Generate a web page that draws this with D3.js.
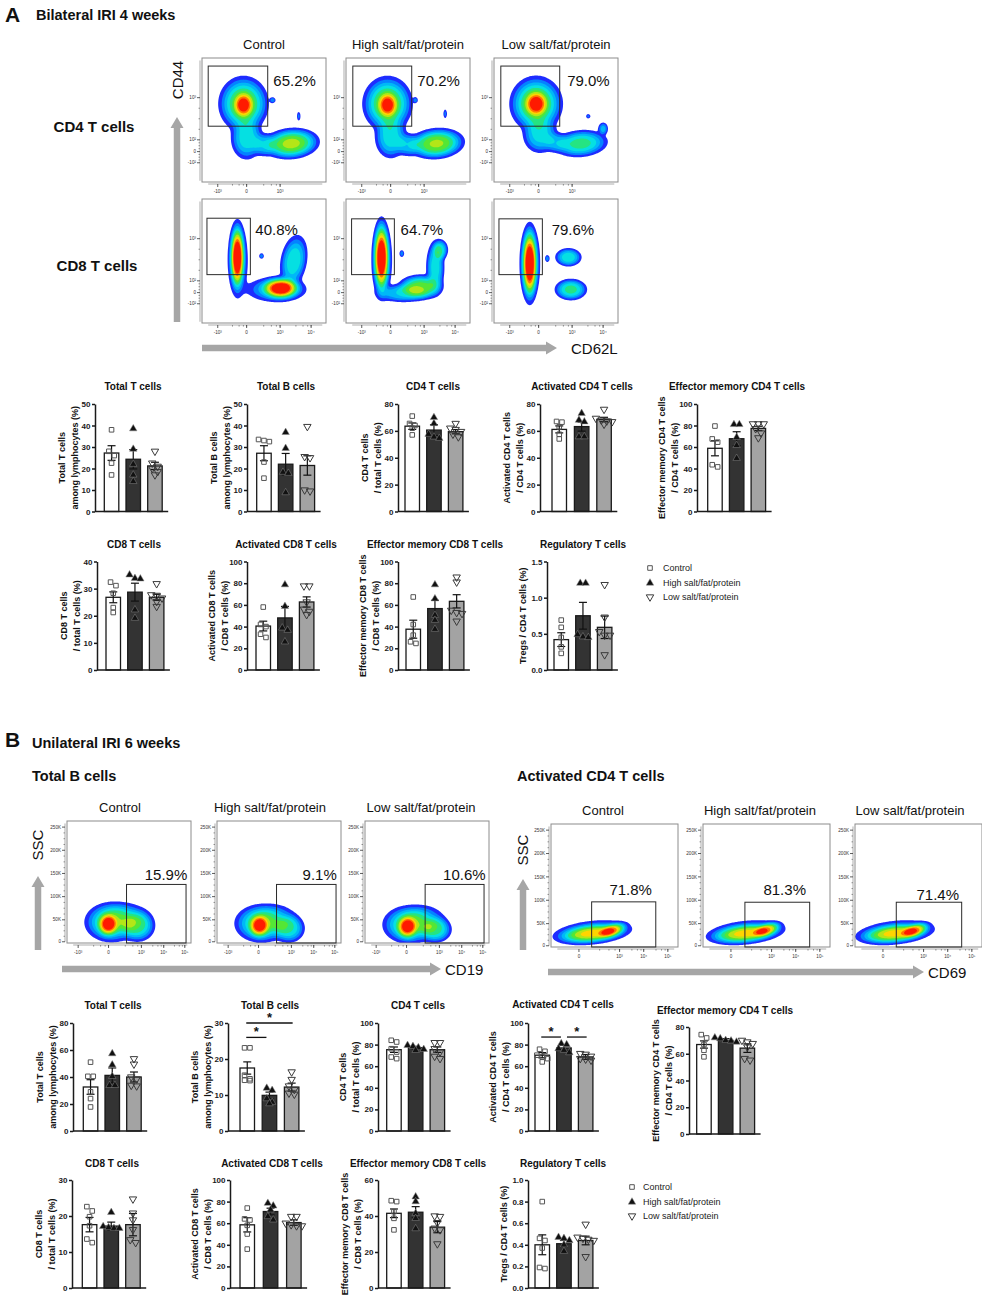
<!DOCTYPE html>
<html><head><meta charset="utf-8">
<script src="https://cdn.jsdelivr.net/npm/d3@7"></script>
<style>
body{margin:0;background:#fff;}
svg{display:block;}
</style></head><body>
<svg id="fig" width="982" height="1296"></svg>
<script>
// ===================== DATA =====================
const GROUPS = ["Control", "High salt/fat/protein", "Low salt/fat/protein"];

// ---- Panel A bar charts (mean, SEM, individual points) ----
const aTotT_mean = [27.2, 24.3, 21.2], aTotT_sem = [3.4, 4.5, 1.7];
const aTotT_pts = [[38, 28, 26, 22.5, 17], [38.5, 29, 22, 17, 14], [28, 22.5, 21, 20, 18.5, 17]];
const aTotB_mean = [27.1, 22.0, 21.4], aTotB_sem = [3.5, 5.0, 4.5];
const aTotB_pts = [[33.5, 33, 32.5, 23, 15.5], [36.8, 29.4, 18.3, 17.8, 8.8], [39.5, 25.5, 25, 10, 9.5]];
const aCD4_mean = [63.5, 60.6, 59.4], aCD4_sem = [2.4, 4.0, 1.6];
const aCD4_pts = [[71, 65.5, 64, 62, 57], [70, 65.5, 57.5, 55.5, 54.5], [65.5, 62, 61, 59.5, 57.5, 55.5]];
const aActCD4_mean = [61.1, 63.2, 68.6], aActCD4_sem = [2.6, 3.4, 1.5];
const aActCD4_pts = [[67, 66.5, 63, 57.5, 54], [73, 68, 66.8, 55.7, 55.7], [76, 69.3, 68, 67.3, 66.8, 64.9]];
const aEmCD4_mean = [58.8, 67.7, 77.3], aEmCD4_sem = [7.0, 6.5, 2.0];
const aEmCD4_pts = [[79.5, 67.5, 64.5, 43.5, 41.5], [81, 81, 69, 61.5, 49.5], [81.5, 81.5, 81.5, 77, 73, 68.5]];
const aCD8_mean = [26.8, 28.7, 26.8], aCD8_sem = [2.0, 3.3, 1.1];
const aCD8_pts = [[32.4, 31.1, 28.3, 23, 21.2], [35.1, 33.8, 33.6, 22.2, 19.1], [31.8, 27.7, 27.5, 26.5, 25.2, 23.4]];
const aActCD8_mean = [40.5, 48.0, 62.7], aActCD8_sem = [4.5, 10.6, 4.7];
const aActCD8_pts = [[58, 42, 40, 33, 30], [78.6, 58.7, 38.8, 36.7, 26], [77.4, 77.4, 62.7, 56, 54, 51]];
const aEmCD8_mean = [37.6, 56.6, 63.3], aEmCD8_sem = [8.3, 7.6, 6.1];
const aEmCD8_pts = [[67.3, 41.9, 32.1, 26, 24.5], [78.6, 65.7, 50.5, 45.9, 37.6], [85.6, 81, 55, 52.9, 52, 45]];
const aTreg_mean = [0.42, 0.75, 0.59], aTreg_sem = [0.095, 0.185, 0.155];
const aTreg_pts = [[0.69, 0.59, 0.45, 0.32, 0.23], [1.2, 1.2, 0.49, 0.46, 0.45], [1.18, 0.73, 0.53, 0.48, 0.48, 0.21]];

// ---- Panel B bar charts ----
const bTotT_mean = [32.6, 41.2, 40.0], bTotT_sem = [5.4, 5.5, 3.7];
const bTotT_pts = [[51, 40.5, 40.5, 29, 24, 17.8], [57.3, 49, 40.5, 33.8, 33.8], [53.5, 49.5, 40, 38.5, 33.8, 33.3]];
const bTotB_mean = [17.5, 9.9, 12.2], bTotB_sem = [1.7, 0.9, 1.1];
const bTotB_pts = [[23.1, 23.1, 15.5, 14.5, 14.1, 14], [11.9, 11.3, 9, 8, 7.6], [16.4, 14.3, 12.5, 11.5, 10.5, 10.2]];
const bTotB_sig = [[0, 2, 30], [0, 1, 26]];
const bCD4_mean = [75.3, 77.2, 75.3], bCD4_sem = [2.5, 1.2, 2.5];
const bCD4_pts = [[84, 82.4, 76.2, 73.1, 68.5, 67], [79.3, 78.4, 77.2, 75.6, 74.7], [81.8, 81.8, 76.2, 73.1, 69.1, 67]];
const bActCD4_mean = [70.2, 76.9, 68.6], bActCD4_sem = [2.4, 2.5, 2.2];
const bActCD4_pts = [[75.7, 73.8, 70.2, 68.6, 67, 64], [80.9, 80, 76.3, 74.8, 72.6], [71.7, 71, 69.2, 67, 66.5, 65.5]];
const bActCD4_sig = [[0, 1, 87], [1, 2, 87]];
const bEmCD4_mean = [66.9, 70.0, 64.2], bEmCD4_sem = [2.7, 1.3, 3.2];
const bEmCD4_pts = [[74.3, 71.8, 66.9, 62.6, 57.7], [72, 71.3, 70, 69.6, 68.8], [70, 68.8, 67.6, 65, 56.4, 55.2]];
const bCD8_mean = [17.6, 17.2, 17.6], bCD8_sem = [2.0, 1.1, 3.1];
const bCD8_pts = [[22.6, 21.4, 19.8, 17.3, 13.6, 12.6], [21, 17.1, 16.8, 16.6, 16.6], [24.7, 20.8, 18.9, 16.2, 13.4, 12.6]];
const bActCD8_mean = [58.5, 70.8, 60.6], bActCD8_sem = [6.6, 3.1, 2.5];
const bActCD8_pts = [[74, 64, 63, 58, 50, 36], [78.5, 76, 72.3, 66.2, 63.1], [66.2, 66.2, 60, 58.5, 57.5, 57.5]];
const bEmCD8_mean = [41.5, 42.1, 33.8], bEmCD8_sem = [2.4, 3.1, 3.1];
const bEmCD8_pts = [[48.5, 48, 42.4, 38.7, 32.3], [50.7, 48, 41.5, 38.7, 33], [40, 39.7, 36.3, 33.2, 32.3, 24.5]];
const bTreg_mean = [0.40, 0.41, 0.44], bTreg_sem = [0.092, 0.03, 0.04];
const bTreg_pts = [[0.8, 0.46, 0.44, 0.37, 0.19, 0.18], [0.47, 0.46, 0.44, 0.40, 0.34], [0.59, 0.47, 0.46, 0.45, 0.44, 0.29]];

// ---- Flow cytometry gate percentages ----
const pctA_CD4 = ["65.2%", "70.2%", "79.0%"];
const pctA_CD8 = ["40.8%", "64.7%", "79.6%"];
const pctB_B = ["15.9%", "9.1%", "10.6%"];
const pctB_CD69 = ["71.8%", "81.3%", "71.4%"];

// ---- Flow populations: [centre x, centre y, spread x, spread y, density, tilt] (plot fractions) ----
const popA_CD4_ctrl = [[0.335, 0.38, 0.04, 0.05, 0.5, 0], [0.335, 0.37, 0.09, 0.1, 0.5, 0], [0.36, 0.65, 0.06, 0.08, 0.3, 0],
  [0.72, 0.69, 0.1, 0.055, 0.58, -5], [0.5, 0.7, 0.05, 0.045, 0.2, 0], [0.57, 0.34, 0.012, 0.012, 0.15, 0], [0.78, 0.47, 0.008, 0.02, 0.12, 0]];
const popA_CD4_high = [[0.335, 0.38, 0.04, 0.05, 0.5, 0], [0.335, 0.37, 0.09, 0.1, 0.5, 0], [0.36, 0.64, 0.06, 0.08, 0.3, 0],
  [0.73, 0.69, 0.1, 0.055, 0.56, -5], [0.5, 0.7, 0.05, 0.045, 0.2, 0], [0.56, 0.34, 0.01, 0.012, 0.14, 0], [0.8, 0.45, 0.008, 0.02, 0.12, 0]];
const popA_CD4_low = [[0.34, 0.37, 0.045, 0.05, 0.5, 0], [0.34, 0.37, 0.095, 0.1, 0.52, 0], [0.37, 0.62, 0.065, 0.07, 0.28, 0],
  [0.7, 0.69, 0.1, 0.05, 0.38, -5], [0.88, 0.57, 0.02, 0.025, 0.2, 0], [0.5, 0.68, 0.05, 0.04, 0.16, 0], [0.76, 0.47, 0.01, 0.01, 0.12, 0]];
const popA_CD8_ctrl = [[0.285, 0.47, 0.028, 0.12, 1.0, 0], [0.29, 0.5, 0.045, 0.16, 0.12, 0], [0.635, 0.72, 0.07, 0.04, 0.85, 0],
  [0.6, 0.73, 0.12, 0.05, 0.22, 0], [0.74, 0.5, 0.05, 0.1, 0.32, 10], [0.48, 0.46, 0.01, 0.012, 0.15, 0]];
const popA_CD8_high = [[0.286, 0.47, 0.03, 0.13, 1.0, 0], [0.29, 0.5, 0.045, 0.16, 0.12, 0], [0.6, 0.71, 0.08, 0.045, 0.5, 0],
  [0.46, 0.76, 0.1, 0.035, 0.25, 0], [0.72, 0.55, 0.035, 0.1, 0.3, 0], [0.76, 0.41, 0.03, 0.04, 0.3, 0], [0.45, 0.44, 0.01, 0.015, 0.15, 0]];
const popA_CD8_low = [[0.288, 0.52, 0.03, 0.13, 1.0, 0], [0.29, 0.52, 0.045, 0.16, 0.12, 0], [0.6, 0.47, 0.05, 0.035, 0.32, 0],
  [0.62, 0.73, 0.06, 0.04, 0.38, 0], [0.43, 0.48, 0.01, 0.015, 0.15, 0]];
const popB_B_ctrl = [[0.33, 0.85, 0.04, 0.045, 0.6, 0], [0.36, 0.83, 0.1, 0.075, 0.4, 0], [0.57, 0.86, 0.065, 0.06, 0.36, 0], [0.47, 0.79, 0.1, 0.06, 0.15, 0]];
const popB_B_high = [[0.34, 0.86, 0.04, 0.045, 0.6, 0], [0.36, 0.84, 0.1, 0.072, 0.4, 0], [0.58, 0.88, 0.06, 0.055, 0.33, 0], [0.47, 0.8, 0.09, 0.06, 0.13, 0]];
const popB_B_low = [[0.34, 0.87, 0.04, 0.045, 0.6, 0], [0.36, 0.85, 0.1, 0.072, 0.4, 0], [0.57, 0.89, 0.06, 0.05, 0.35, 0], [0.47, 0.81, 0.09, 0.06, 0.15, 0]];
const popB_CD69_ctrl = [[0.32, 0.89, 0.12, 0.035, 0.55, -6], [0.48, 0.865, 0.055, 0.025, 0.5, -20], [0.33, 0.88, 0.16, 0.05, 0.15, -6]];
const popB_CD69_high = [[0.33, 0.89, 0.12, 0.035, 0.55, -6], [0.5, 0.86, 0.055, 0.025, 0.5, -20], [0.34, 0.88, 0.16, 0.05, 0.15, -6]];
const popB_CD69_low = [[0.31, 0.89, 0.12, 0.035, 0.55, -6], [0.47, 0.865, 0.055, 0.025, 0.5, -20], [0.32, 0.88, 0.16, 0.05, 0.15, -6]];

// ---- Flow axis tick labels ----
const tickA_x1 = ["-10³", "0", "10³"];
const tickA_x2 = ["-10³", "0", "10³", "10⁴"];
const tickA_y = ["10³", "10²", "0", "-10²"];
const tickB_xB = ["-10³", "0", "10³", "10⁴", "10⁵"];
const tickB_x69 = ["0", "10³", "10⁴", "10⁵"];
const tickB_y = ["250K", "200K", "150K", "100K", "50K", "0"];

// ===================== LAYOUT / STYLE =====================
const FONT = '"Liberation Sans", Arial, Helvetica, sans-serif';
const BAR_FILL = ["#ffffff", "#333333", "#a3a3a3"];
const svg = d3.select("#fig").attr("font-family", FONT);
const defs = svg.append("defs");

function txt(x, y, s, o = {}) {
  const t = svg.append("text").attr("x", x).attr("y", y).text(s)
    .attr("font-size", o.size || 12).attr("font-weight", o.bold ? "bold" : "normal")
    .attr("fill", o.fill || "#111").attr("text-anchor", o.anchor || "start");
  if (o.rot) t.attr("transform", `rotate(-90,${x},${y})`);
  if (o.dy) t.attr("dy", o.dy);
  return t;
}

function arrow(x1, y1, x2, y2, w = 6.5, hl = 11, hw = 13) {
  const dx = x2 - x1, dy = y2 - y1, L = Math.hypot(dx, dy);
  const ux = dx / L, uy = dy / L, px = -uy, py = ux;
  const bx = x2 - ux * hl, by = y2 - uy * hl;
  const p = [[x1 + px * w / 2, y1 + py * w / 2], [bx + px * w / 2, by + py * w / 2], [bx + px * hw / 2, by + py * hw / 2], [x2, y2],
    [bx - px * hw / 2, by - py * hw / 2], [bx - px * w / 2, by - py * w / 2], [x1 - px * w / 2, y1 - py * w / 2]];
  svg.append("path").attr("d", d3.line()(p) + "Z").attr("fill", "#a6a6a6");
}

// ===================== FLOW PLOTS =====================
const JET = d3.scaleLinear().domain([0, 0.2, 0.4, 0.6, 0.8, 1])
  .range(["#1e2cff", "#0090ff", "#00e0f0", "#3ce63c", "#ffe600", "#ff1a00"]).clamp(true);
const LEVELS = [0.04, 0.1, 0.17, 0.25, 0.34, 0.44, 0.54, 0.65, 0.76, 0.87];
const SHAPE = 1.5, SPREAD = 1.18;
let clipN = 0;

function flowPlot(F, pops, gate, pct, pctPos, xt, xpos, yt, ypos) {
  const nx = 130, ny = 130;
  const vals = new Float64Array(nx * ny);
  for (let j = 0; j < ny; j++) for (let i = 0; i < nx; i++) {
    const fx = (i + 0.5) / nx, fy = (j + 0.5) / ny;
    let s = 0;
    for (const [cx, cy, sx0, sy0, a, ang] of pops) {
      const sx = sx0 * SPREAD, sy = sy0 * SPREAD;
      const r = ang * Math.PI / 180, dx = fx - cx, dy = fy - cy;
      const u = dx * Math.cos(r) + dy * Math.sin(r), v = -dx * Math.sin(r) + dy * Math.cos(r);
      s += a * Math.exp(-Math.pow(0.5 * (u * u / (sx * sx) + v * v / (sy * sy)), SHAPE));
    }
    vals[j * nx + i] = s;
  }
  const cont = d3.contours().size([nx, ny]).thresholds(LEVELS)(vals);
  const id = "clip" + (clipN++);
  defs.append("clipPath").attr("id", id).append("rect").attr("x", F.x).attr("y", F.y).attr("width", F.w).attr("height", F.h);
  const g = svg.append("g");
  g.append("g").attr("clip-path", `url(#${id})`).append("g")
    .attr("transform", `translate(${F.x},${F.y}) scale(${F.w / nx},${F.h / ny})`)
    .selectAll("path").data(cont).join("path").attr("d", d3.geoPath())
    .attr("fill", (d, k) => JET(Math.pow(k / (LEVELS.length - 1), 0.8)));
  g.append("rect").attr("x", F.x).attr("y", F.y).attr("width", F.w).attr("height", F.h)
    .attr("fill", "none").attr("stroke", "#8c8c8c").attr("stroke-width", 1);
  g.append("rect").attr("x", F.x + gate[0] * F.w).attr("y", F.y + gate[1] * F.h)
    .attr("width", (gate[2] - gate[0]) * F.w).attr("height", (gate[3] - gate[1]) * F.h)
    .attr("fill", "none").attr("stroke", "#2a2a2a").attr("stroke-width", 1);
  g.append("text").attr("x", F.x + pctPos[0] * F.w).attr("y", F.y + pctPos[1] * F.h).text(pct)
    .attr("font-size", 15).attr("fill", "#111").attr("text-anchor", pctPos[2] || "start");
  // tiny axes
  const xs = d3.scaleLinear().domain([0, 1]).range([F.x, F.x + F.w]);
  const ys = d3.scaleLinear().domain([0, 1]).range([F.y, F.y + F.h]);
  const by = F.y + F.h + 2, lx = F.x - 2;
  const minorX = [], minorY = [];
  for (let k = 0; k < xpos.length - 1; k++) for (let m = 1; m < 5; m++) minorX.push(xpos[k] + (xpos[k + 1] - xpos[k]) * Math.log10(1 + m * 2.2) / Math.log10(9.8));
  for (let k = 0; k < ypos.length - 1; k++) for (let m = 1; m < 4; m++) minorY.push(ypos[k] + (ypos[k + 1] - ypos[k]) * m / 4);
  g.append("line").attr("x1", xs(0.05)).attr("x2", xs(0.97)).attr("y1", by).attr("y2", by).attr("stroke", "#777").attr("stroke-width", 0.6);
  g.selectAll(".mx").data(minorX).join("line").attr("x1", d => xs(d)).attr("x2", d => xs(d)).attr("y1", by).attr("y2", by + 1.6).attr("stroke", "#555").attr("stroke-width", 0.6);
  g.selectAll(".Mx").data(xpos).join("line").attr("x1", d => xs(d)).attr("x2", d => xs(d)).attr("y1", by).attr("y2", by + 3).attr("stroke", "#333").attr("stroke-width", 0.8);
  g.selectAll(".tx").data(xt).join("text").attr("x", (d, i) => xs(xpos[i])).attr("y", by + 8.5).text(d => d)
    .attr("font-size", 4.6).attr("fill", "#333").attr("text-anchor", "middle");
  g.append("line").attr("x1", lx).attr("x2", lx).attr("y1", ys(0.02)).attr("y2", ys(0.99)).attr("stroke", "#777").attr("stroke-width", 0.6);
  g.selectAll(".my").data(minorY).join("line").attr("x1", lx).attr("x2", lx - 1.5).attr("y1", d => ys(d)).attr("y2", d => ys(d)).attr("stroke", "#555").attr("stroke-width", 0.6);
  g.selectAll(".My").data(ypos).join("line").attr("x1", lx).attr("x2", lx - 3).attr("y1", d => ys(d)).attr("y2", d => ys(d)).attr("stroke", "#333").attr("stroke-width", 0.8);
  g.selectAll(".ty").data(yt).join("text").attr("x", lx - 4).attr("y", (d, i) => ys(ypos[i])).attr("dy", "0.35em").text(d => d)
    .attr("font-size", 4.6).attr("fill", "#333").attr("text-anchor", "end");
}

// ---- Panel A headings & flow ----
txt(5, 22, "A", { size: 21, bold: true });
txt(36, 20, "Bilateral IRI 4 weeks", { size: 14.5, bold: true });
const colA = [202, 346, 494];
GROUPS.forEach((gname, i) => txt(colA[i] + 62, 49, gname, { size: 13, anchor: "middle" }));
txt(94, 132, "CD4 T cells", { size: 15, bold: true, anchor: "middle" });
txt(97, 271, "CD8 T cells", { size: 15, bold: true, anchor: "middle" });
txt(178, 80, "CD44", { size: 15, anchor: "middle", rot: true, dy: "0.35em" });
arrow(177, 322, 177, 117);
arrow(202, 348, 557, 348);
txt(571, 354, "CD62L", { size: 15 });

const xA1 = [0.127, 0.36, 0.63], xA2 = [0.127, 0.36, 0.63, 0.88], yA = [0.32, 0.66, 0.755, 0.845];
const gatesA1 = [[0.05, 0.065, 0.53, 0.55], [0.055, 0.065, 0.53, 0.55], [0.055, 0.065, 0.53, 0.55]];
const gatesA2 = [[0.04, 0.155, 0.39, 0.61], [0.045, 0.16, 0.39, 0.61], [0.04, 0.16, 0.39, 0.61]];
const pctPosA1 = [[0.575, 0.226], [0.575, 0.226], [0.59, 0.226]];
const pctPosA2 = [[0.43, 0.29], [0.44, 0.29], [0.465, 0.29]];
[popA_CD4_ctrl, popA_CD4_high, popA_CD4_low].forEach((p, i) =>
  flowPlot({ x: colA[i], y: 58, w: 124, h: 124 }, p, gatesA1[i], pctA_CD4[i], pctPosA1[i], tickA_x1, xA1, tickA_y, yA));
[popA_CD8_ctrl, popA_CD8_high, popA_CD8_low].forEach((p, i) =>
  flowPlot({ x: colA[i], y: 199, w: 124, h: 124 }, p, gatesA2[i], pctA_CD8[i], pctPosA2[i], tickA_x2, xA2, tickA_y, yA));

// ---- Panel B headings & flow ----
txt(5, 747, "B", { size: 21, bold: true });
txt(32, 748, "Unilateral IRI 6 weeks", { size: 14.5, bold: true });
txt(32, 781, "Total B cells", { size: 14.5, bold: true });
txt(517, 781, "Activated CD4 T cells", { size: 14.5, bold: true });
const hdrBL = [120, 270, 421], hdrBR = [603, 760, 910];
GROUPS.forEach((gname, i) => { txt(hdrBL[i], 812, gname, { size: 13, anchor: "middle" }); txt(hdrBR[i], 815, gname, { size: 13, anchor: "middle" }); });
txt(38, 845, "SSC", { size: 15, anchor: "middle", rot: true, dy: "0.35em" });
arrow(38, 950, 38, 876);
arrow(62, 969, 441, 969);
txt(445, 975, "CD19", { size: 15 });
txt(523, 850, "SSC", { size: 15, anchor: "middle", rot: true, dy: "0.35em" });
arrow(523, 950, 523, 879);
arrow(548, 972, 924, 972);
txt(928, 978, "CD69", { size: 15 });

const colBL = [67, 217, 365], colBR = [551, 703, 855];
const xBB = [0.09, 0.335, 0.6, 0.78, 0.95], x69 = [0.22, 0.54, 0.73, 0.92], yB = [0.05, 0.24, 0.43, 0.62, 0.81, 0.99];
const gatesBB = [[0.48, 0.52, 0.96, 1.0], [0.48, 0.52, 0.96, 1.0], [0.485, 0.52, 0.96, 1.0]];
const gatesB69 = [[0.32, 0.633, 0.825, 1.0], [0.33, 0.636, 0.84, 1.0], [0.325, 0.636, 0.84, 1.0]];
const pctPosBB = [[0.97, 0.48, "end"], [0.966, 0.48, "end"], [0.973, 0.48, "end"]];
const pctPosB69 = [[0.46, 0.58], [0.476, 0.58], [0.484, 0.615]];
[popB_B_ctrl, popB_B_high, popB_B_low].forEach((p, i) =>
  flowPlot({ x: colBL[i], y: 821, w: 124, h: 122 }, p, gatesBB[i], pctB_B[i], pctPosBB[i], tickB_xB, xBB, tickB_y, yB));
[popB_CD69_ctrl, popB_CD69_high, popB_CD69_low].forEach((p, i) =>
  flowPlot({ x: colBR[i], y: 824, w: 127, h: 123 }, p, gatesB69[i], pctB_CD69[i], pctPosB69[i], tickB_x69, x69, tickB_y, yB));

// ===================== BAR CHARTS =====================
const SYM_PATHS = [d3.symbol().type(d3.symbolSquare).size(21)(), d3.symbol().type(d3.symbolTriangle).size(24)(), d3.symbol().type(d3.symbolTriangle).size(24)()];
function marker(g, i, x, y) {
  const p = g.append("path").attr("d", SYM_PATHS[i]);
  if (i === 0) p.attr("transform", `translate(${x},${y})`).attr("fill", "none").attr("stroke", "#555").attr("stroke-width", 1);
  if (i === 1) p.attr("transform", `translate(${x},${y})`).attr("fill", "#111").attr("stroke", "#8a8a8a").attr("stroke-width", 0.5);
  if (i === 2) p.attr("transform", `translate(${x},${y}) rotate(180)`).attr("fill", "none").attr("stroke", "#3a3a3a").attr("stroke-width", 1);
}

function swarmOffsets(vals, y, spacing = 5.4, tol = 4.5) {
  const idx = vals.map((v, i) => i).sort((a, b) => vals[b] - vals[a]);
  const off = new Array(vals.length).fill(0);
  let grp = [];
  const flush = () => { grp.forEach((k, j) => off[k] = (j - (grp.length - 1) / 2) * spacing); grp = []; };
  idx.forEach(k => { if (grp.length && Math.abs(y(vals[k]) - y(vals[grp[0]])) > tol) flush(); grp.push(k); });
  flush();
  return off;
}

function barChart(L, title, ylab, yMax, yStep, fmt, mean, sem, pts, sig) {
  const g = svg.append("g");
  const y = d3.scaleLinear().domain([0, yMax]).range([L.bottom, L.top]);
  const step = L.step || 21.7, bw = 14.5;
  const x = d3.scaleBand().domain(GROUPS).range([L.bar0, L.bar0 + 2 * step + bw]).paddingInner((step - bw) / step).paddingOuter(0);
  const cx = i => x(GROUPS[i]) + x.bandwidth() / 2;
  g.selectAll("rect.bar").data(GROUPS).join("rect").attr("class", "bar")
    .attr("x", d => x(d)).attr("width", x.bandwidth())
    .attr("y", (d, i) => y(mean[i])).attr("height", (d, i) => y(0) - y(mean[i]))
    .attr("fill", (d, i) => BAR_FILL[i]).attr("stroke", "#1a1a1a").attr("stroke-width", 1.3);
  GROUPS.forEach((d, i) => {
    const lo = y(mean[i] - sem[i]), hi = y(mean[i] + sem[i]);
    g.append("line").attr("x1", cx(i)).attr("x2", cx(i)).attr("y1", lo).attr("y2", hi).attr("stroke", "#111").attr("stroke-width", 1.2);
    [lo, hi].forEach(yy => g.append("line").attr("x1", cx(i) - 4).attr("x2", cx(i) + 4).attr("y1", yy).attr("y2", yy).attr("stroke", "#111").attr("stroke-width", 1.2));
  });
  pts.forEach((arr, i) => {
    const off = swarmOffsets(arr, y);
    arr.forEach((v, k) => marker(g, i, cx(i) + off[k], y(v)));
  });
  const ya = d3.axisLeft(y).tickValues(d3.range(0, yMax + yStep / 2, yStep)).tickSize(3).tickSizeOuter(0).tickPadding(1.5).tickFormat(d3.format(fmt));
  const ag = g.append("g").attr("transform", `translate(${L.ax},0)`).call(ya);
  ag.select(".domain").attr("stroke", "#1a1a1a").attr("stroke-width", 1.5);
  ag.selectAll(".tick line").attr("stroke", "#1a1a1a").attr("stroke-width", 1.5);
  ag.selectAll(".tick text").attr("font-size", 8).attr("font-weight", "bold").attr("font-family", FONT).attr("fill", "#1a1a1a");
  g.append("line").attr("x1", L.ax).attr("x2", x(GROUPS[2]) + bw + 6).attr("y1", y(0)).attr("y2", y(0)).attr("stroke", "#1a1a1a").attr("stroke-width", 1.5);
  g.append("text").attr("x", L.tx).attr("y", L.ty).text(title).attr("text-anchor", "middle")
    .attr("font-size", 10).attr("font-weight", "bold").attr("fill", "#111");
  const mid = (L.top + L.bottom) / 2;
  const wide = yMax >= 100;
  const offs = ylab.length === 1 ? [-24] : (wide ? [-35, -22] : [-33, -20]);
  ylab.forEach((s, k) => {
    const xx = L.ax + offs[k];
    g.append("text").attr("x", xx).attr("y", mid).attr("dy", "0.35em").attr("transform", `rotate(-90,${xx},${mid})`)
      .text(s).attr("text-anchor", "middle").attr("font-size", 9).attr("font-weight", "bold").attr("fill", "#111");
  });
  (sig || []).forEach(([a, b, lev]) => {
    const yy = y(lev), x1 = cx(a) + (a === 1 ? 3 : -1), x2 = cx(b) - (b === 1 ? 3 : -1);
    g.append("line").attr("x1", x1).attr("x2", x2).attr("y1", yy).attr("y2", yy).attr("stroke", "#111").attr("stroke-width", 1.3);
    g.append("text").attr("x", (x1 + x2) / 2).attr("y", yy - 1.5).text("*").attr("text-anchor", "middle")
      .attr("font-size", 13).attr("font-weight", "bold").attr("fill", "#111");
  });
}

const yl = {
  totT: ["Total T cells", "among lymphocytes (%)"], totB: ["Total B cells", "among lymphocytes (%)"],
  cd4: ["CD4 T cells", "/ total T cells (%)"], act4: ["Activated CD4 T cells", "/ CD4 T cells (%)"],
  em4: ["Effector memory CD4 T cells", "/ CD4 T cells (%)"], cd8: ["CD8 T cells", "/ total T cells (%)"],
  act8: ["Activated CD8 T cells", "/ CD8 T cells (%)"], em8: ["Effector memory CD8 T cells", "/ CD8 T cells (%)"],
  treg: ["Tregs / CD4 T cells (%)"]
};

// Panel A row 1
barChart({ ax: 95, bar0: 104.3, top: 404, bottom: 511.5, tx: 133, ty: 390 }, "Total T cells", yl.totT, 50, 10, "d", aTotT_mean, aTotT_sem, aTotT_pts);
barChart({ ax: 247, bar0: 256.7, top: 404, bottom: 511.5, tx: 286, ty: 390 }, "Total B cells", yl.totB, 50, 10, "d", aTotB_mean, aTotB_sem, aTotB_pts);
barChart({ ax: 398, bar0: 405, top: 404, bottom: 511.5, tx: 433, ty: 390 }, "CD4 T cells", yl.cd4, 80, 20, "d", aCD4_mean, aCD4_sem, aCD4_pts);
barChart({ ax: 540, bar0: 552, step: 22.4, top: 404, bottom: 511.5, tx: 582, ty: 390 }, "Activated CD4 T cells", yl.act4, 80, 20, "d", aActCD4_mean, aActCD4_sem, aActCD4_pts);
barChart({ ax: 697, bar0: 707.7, top: 404, bottom: 511.5, tx: 737, ty: 390 }, "Effector memory CD4 T cells", yl.em4, 100, 20, "d", aEmCD4_mean, aEmCD4_sem, aEmCD4_pts);
// Panel A row 2
barChart({ ax: 97, bar0: 106, top: 561.5, bottom: 670, tx: 134, ty: 548 }, "CD8 T cells", yl.cd8, 40, 10, "d", aCD8_mean, aCD8_sem, aCD8_pts);
barChart({ ax: 247, bar0: 256, top: 561.5, bottom: 670, tx: 286, ty: 548 }, "Activated CD8 T cells", yl.act8, 100, 20, "d", aActCD8_mean, aActCD8_sem, aActCD8_pts);
barChart({ ax: 398, bar0: 406, top: 561.5, bottom: 670, tx: 435, ty: 548 }, "Effector memory CD8 T cells", yl.em8, 100, 20, "d", aEmCD8_mean, aEmCD8_sem, aEmCD8_pts);
barChart({ ax: 547, bar0: 554, top: 561.5, bottom: 670, tx: 583, ty: 548 }, "Regulatory T cells", yl.treg, 1.5, 0.5, ".1f", aTreg_mean, aTreg_sem, aTreg_pts);
// Panel B row 1
barChart({ ax: 73, bar0: 83.3, top: 1023, bottom: 1131, tx: 113, ty: 1009 }, "Total T cells", yl.totT, 80, 20, "d", bTotT_mean, bTotT_sem, bTotT_pts);
barChart({ ax: 228, bar0: 240, step: 22.2, top: 1023, bottom: 1131, tx: 270, ty: 1009 }, "Total B cells", yl.totB, 30, 10, "d", bTotB_mean, bTotB_sem, bTotB_pts, bTotB_sig);
barChart({ ax: 378, bar0: 386.7, top: 1023, bottom: 1131, tx: 418, ty: 1009 }, "CD4 T cells", yl.cd4, 100, 20, "d", bCD4_mean, bCD4_sem, bCD4_pts);
barChart({ ax: 528, bar0: 535, top: 1023, bottom: 1131, tx: 563, ty: 1008 }, "Activated CD4 T cells", yl.act4, 100, 20, "d", bActCD4_mean, bActCD4_sem, bActCD4_pts, bActCD4_sig);
barChart({ ax: 689, bar0: 696.7, top: 1027, bottom: 1134, tx: 725, ty: 1014 }, "Effector memory CD4 T cells", yl.em4, 80, 20, "d", bEmCD4_mean, bEmCD4_sem, bEmCD4_pts);
// Panel B row 2
barChart({ ax: 72, bar0: 82.3, top: 1180, bottom: 1288, tx: 112, ty: 1167 }, "CD8 T cells", yl.cd8, 30, 10, "d", bCD8_mean, bCD8_sem, bCD8_pts);
barChart({ ax: 230, bar0: 240, step: 23.3, top: 1180, bottom: 1288, tx: 272, ty: 1167 }, "Activated CD8 T cells", yl.act8, 100, 20, "d", bActCD8_mean, bActCD8_sem, bActCD8_pts);
barChart({ ax: 378, bar0: 386.7, top: 1180, bottom: 1288, tx: 418, ty: 1167 }, "Effector memory CD8 T cells", yl.em8, 60, 20, "d", bEmCD8_mean, bEmCD8_sem, bEmCD8_pts);
barChart({ ax: 528, bar0: 535, top: 1180, bottom: 1288, tx: 563, ty: 1167 }, "Regulatory T cells", yl.treg, 1.0, 0.2, ".1f", bTreg_mean, bTreg_sem, bTreg_pts);

// ---- Legends ----
function legend(mx, tx, ys) {
  const g = svg.append("g");
  GROUPS.forEach((gname, i) => {
    marker(g, i, mx, ys[i]);
    g.append("text").attr("x", tx).attr("y", ys[i]).attr("dy", "0.35em").text(gname).attr("font-size", 9).attr("fill", "#222");
  });
}
legend(650, 663, [568, 583, 597]);
legend(632, 643, [1187, 1202, 1216]);
</script>
</body></html>
